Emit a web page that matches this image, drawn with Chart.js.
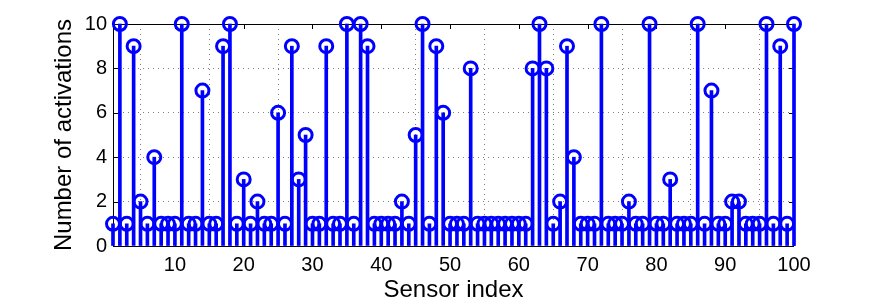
<!DOCTYPE html>
<html>
<head>
<meta charset="utf-8">
<script src="https://cdn.jsdelivr.net/npm/chart.js@4"></script>
<style>
  html, body { margin: 0; padding: 0; background: #fff; }
  #wrap { width: 875px; height: 307px; }
</style>
</head>
<body>
<div id="wrap"><canvas id="stemChart" width="875" height="307"></canvas></div>
<script>
// sensor indices 1..100
const sensorIndex = Array.from({ length: 100 }, (_, i) => i + 1);

// activations per sensor
const activations = [
  1, 10, 1, 9, 2, 1, 4, 1, 1, 1,
  10, 1, 1, 7, 1, 1, 9, 10, 1, 3,
  1, 2, 1, 1, 6, 1, 9, 3, 5, 1,
  1, 9, 1, 1, 10, 1, 10, 9, 1, 1,
  1, 1, 2, 1, 5, 10, 1, 9, 6, 1,
  1, 1, 8, 1, 1, 1, 1, 1, 1, 1,
  1, 8, 10, 8, 1, 2, 9, 4, 1, 1,
  1, 10, 1, 1, 1, 2, 1, 1, 10, 1,
  1, 3, 1, 1, 1, 10, 1, 7, 1, 1,
  2, 2, 1, 1, 1, 10, 1, 9, 1, 10
];

const xTicks = [10, 20, 30, 40, 50, 60, 70, 80, 90, 100];
const yTicks = [0, 2, 4, 6, 8, 10];

const BLUE = '#0000ff';
const FONT = 'Liberation Sans, Arial, Helvetica, sans-serif';

const points = sensorIndex.map((x, i) => ({ x: x, y: activations[i] }));

// matlab-ish box with inward ticks
const axesBox = {
  id: 'axesBox',
  beforeDatasetsDraw(chart) {
    const { ctx, chartArea: a, scales } = chart;
    ctx.save();
    ctx.strokeStyle = '#000';
    ctx.lineWidth = 1;
    ctx.setLineDash([]);
    ctx.strokeRect(a.left + 0.5, a.top + 0.5, a.right - a.left - 1, a.bottom - a.top);
    const len = 5;
    ctx.beginPath();
    xTicks.forEach(v => {
      const px = Math.round(scales.x.getPixelForValue(v)) + 0.5;
      ctx.moveTo(px, a.bottom); ctx.lineTo(px, a.bottom - len);
      ctx.moveTo(px, a.top); ctx.lineTo(px, a.top + len);
    });
    yTicks.forEach(v => {
      const py = Math.round(scales.y.getPixelForValue(v)) + 0.5;
      ctx.moveTo(a.left, py); ctx.lineTo(a.left + len, py);
      ctx.moveTo(a.right, py); ctx.lineTo(a.right - len, py);
    });
    ctx.stroke();
    ctx.restore();
  }
};

new Chart(document.getElementById('stemChart'), {
  data: {
    datasets: [
      {
        type: 'line',
        data: points,
        showLine: false,
        pointRadius: 6.5,
        pointHoverRadius: 6.5,
        pointBorderWidth: 3,
        pointBorderColor: BLUE,
        pointBackgroundColor: 'rgba(0,0,0,0)',
        borderColor: BLUE,
        clip: false,
        order: 0
      },
      {
        type: 'bar',
        data: points,
        backgroundColor: BLUE,
        borderWidth: 0,
        barThickness: 3,
        clip: false,
        order: 1
      }
    ]
  },
  options: {
    responsive: false,
    animation: false,
    events: [],
    layout: { padding: { left: 0, right: 81, top: 24, bottom: 0 } },
    plugins: { legend: { display: false }, tooltip: { enabled: false } },
    scales: {
      x: {
        type: 'linear',
        min: 1,
        max: 100,
        offset: false,
        afterBuildTicks: s => { s.ticks = xTicks.map(v => ({ value: v })); },
        afterFit: s => { s.height = 61; },
        grid: {
          color: 'rgba(0,0,0,0.5)',
          lineWidth: 1,
          drawTicks: false
        },
        border: { display: false, dash: [1, 4] },
        ticks: {
          padding: 7,
          maxRotation: 0,
          autoSkip: false,
          color: '#000',
          font: { family: FONT, size: 20 }
        },
        title: {
          display: true,
          text: 'Sensor index',
          color: '#000',
          font: { family: FONT, size: 24 },
          padding: { top: 0, bottom: 2 }
        }
      },
      y: {
        min: 0,
        max: 10,
        afterBuildTicks: s => { s.ticks = yTicks.map(v => ({ value: v })); },
        afterFit: s => { s.width = 113; },
        grid: {
          color: 'rgba(0,0,0,0.5)',
          lineWidth: 1,
          drawTicks: false
        },
        border: { display: false, dash: [1, 4] },
        ticks: {
          padding: 6,
          color: '#000',
          font: { family: FONT, size: 20 }
        },
        title: {
          display: true,
          text: 'Number of activations',
          color: '#000',
          font: { family: FONT, size: 24 },
          padding: { top: 50, bottom: 0 }
        }
      }
    }
  },
  plugins: [axesBox]
});
</script>
</body>
</html>
